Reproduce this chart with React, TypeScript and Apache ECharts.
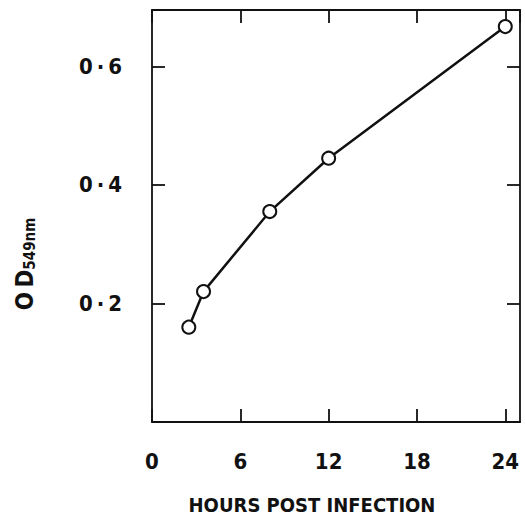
import React, { useEffect, useRef } from "react";
import * as echarts from "echarts";

const hours = [2.5, 3.5, 8, 12, 24];
const od549 = [0.16, 0.22, 0.355, 0.445, 0.667];
const xTickValues = [0, 6, 12, 18, 24];
const xTickLabels = ["0", "6", "12", "18", "24"];
const yTickValues = [0.2, 0.4, 0.6];
const yTickLabels = ["0\u2009·\u20092", "0\u2009·\u20094", "0\u2009·\u20096"];
const xTitle = "HOURS POST INFECTION";
const yTitleMain = "O\u2009D";
const yTitleSub = "549nm";

const FONT = "'DejaVu Sans Condensed', 'Liberation Sans Narrow', 'DejaVu Sans', sans-serif";
const INK = "#111";

export default function App() {
  const ref = useRef<HTMLDivElement>(null);
  useEffect(() => {
    if (!ref.current) return;
    const chart = echarts.init(ref.current, null, { renderer: "svg" });
    const axisLine = { show: true, onZero: false, lineStyle: { color: INK, width: 1.8 } };
    const tick = { show: true, inside: true, length: 13, lineStyle: { color: INK, width: 1.8 } };
    const labelStyle = { color: INK, fontFamily: FONT, fontSize: 22, fontWeight: "bold" as const };
    chart.setOption({
      animation: false,
      backgroundColor: "#fff",
      grid: { left: 152, right: 5, top: 10, bottom: 95, containLabel: false, outerBoundsMode: "none" },
      xAxis: [
        {
          type: "value",
          min: 0,
          max: 25,
          interval: 6,
          position: "bottom",
          axisLine,
          axisTick: tick,
          splitLine: { show: false },
          axisLabel: {
            ...labelStyle,
            margin: 28,
            showMaxLabel: false,
            formatter: (v: number) => {
              const i = xTickValues.indexOf(v);
              return i >= 0 ? xTickLabels[i] : "";
            },
          },
          name: xTitle,
          nameLocation: "middle",
          nameGap: 73,
          nameTextStyle: { ...labelStyle, fontSize: 20, lineHeight: 20, padding: [0, 48, 0, 0] },
        },
        {
          type: "value",
          min: 0,
          max: 25,
          interval: 6,
          position: "top",
          axisLine,
          axisTick: tick,
          splitLine: { show: false },
          axisLabel: { show: false },
        },
      ],
      yAxis: [
        {
          type: "value",
          min: 0,
          max: 0.695,
          interval: 0.2,
          position: "left",
          axisLine,
          axisTick: tick,
          splitLine: { show: false },
          axisLabel: {
            ...labelStyle,
            margin: 30,
            showMinLabel: false,
            showMaxLabel: false,
            formatter: (v: number) => {
              const i = yTickValues.findIndex((t) => Math.abs(t - v) < 1e-6);
              return i >= 0 ? yTickLabels[i] : "";
            },
          },
          name: `{a|${yTitleMain}}{b|${yTitleSub}}`,
          nameLocation: "middle",
          nameRotate: 90,
          nameGap: 115,
          nameTextStyle: {
            padding: [0, 96, 0, 0],
            rich: {
              a: { fontFamily: FONT, fontSize: 24, fontWeight: "bold", color: INK, lineHeight: 24, verticalAlign: "top" },
              b: { fontFamily: FONT, fontSize: 15, fontWeight: "bold", color: INK, lineHeight: 15, verticalAlign: "bottom" },
            },
          },
        },
        {
          type: "value",
          min: 0,
          max: 0.695,
          interval: 0.2,
          position: "right",
          axisLine,
          axisTick: tick,
          splitLine: { show: false },
          axisLabel: { show: false },
        },
      ],
      series: [
        {
          type: "line",
          data: hours.map((h, i) => [h, od549[i]]),
          symbol: "circle",
          symbolSize: 13,
          lineStyle: { color: INK, width: 2.5 },
          itemStyle: { color: "#fff", borderColor: INK, borderWidth: 2 },
          z: 5,
        },
      ],
    });
    return () => chart.dispose();
  }, []);
  return <div ref={ref} style={{ width: 525, height: 517, position: "absolute", left: 0, top: 0 }} />;
}
